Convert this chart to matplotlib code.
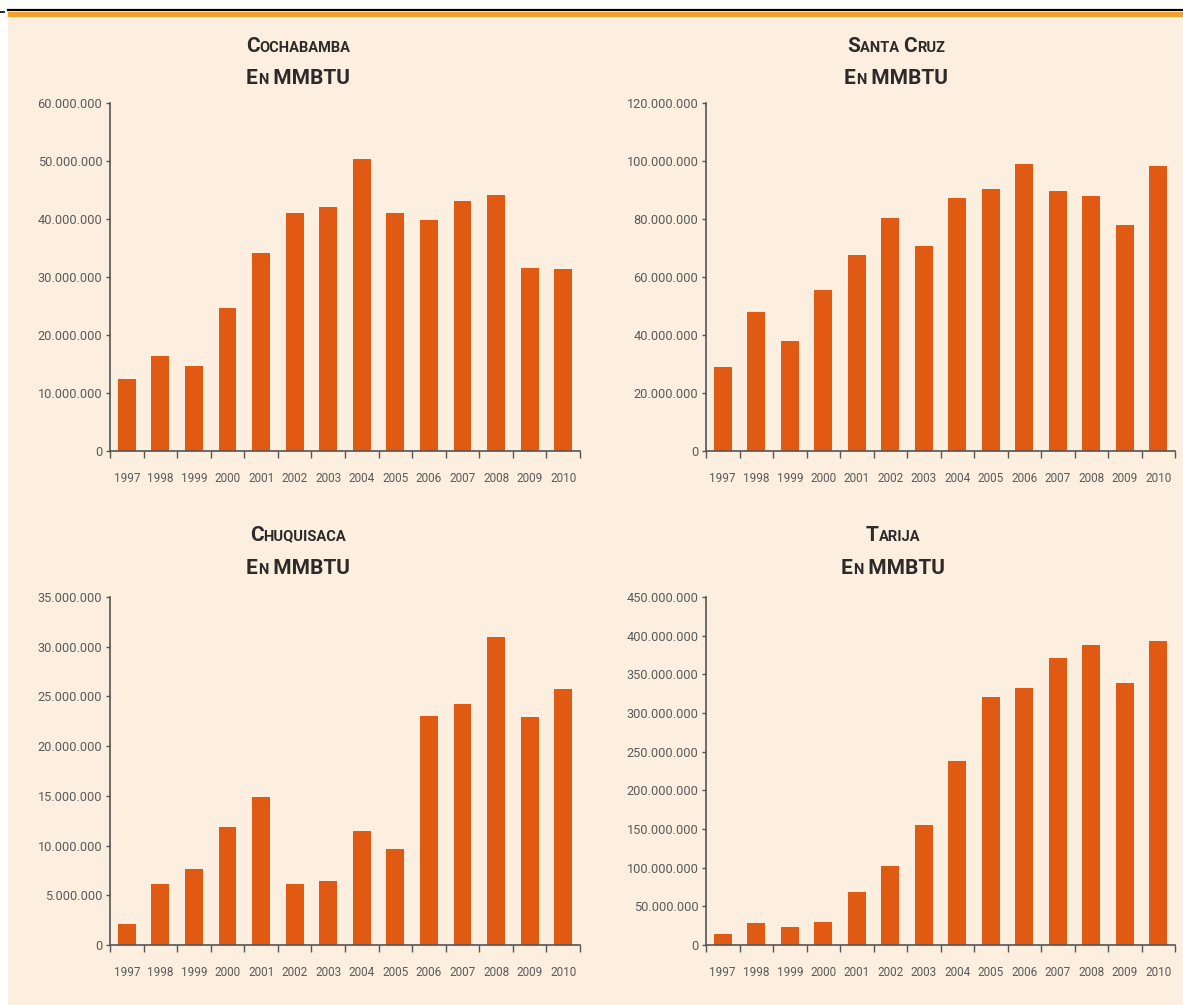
#!/usr/bin/env python3
"""
Consumo de gas natural por departamento, 1997-2010 (MMBTU)
"""

import numpy as np
import matplotlib
matplotlib.use("Agg")
import matplotlib.pyplot as plt
from matplotlib.patches import Rectangle
from matplotlib.lines import Line2D
from matplotlib.offsetbox import TextArea, HPacker, AnnotationBbox
from matplotlib.ticker import FuncFormatter, FixedLocator

# --- data (millones de MMBTU) ---
years = ["1997", "1998", "1999", "2000", "2001", "2002", "2003",
         "2004", "2005", "2006", "2007", "2008", "2009", "2010"]

cochabamba = [12.4, 16.4, 14.6, 24.6, 34.1, 41.0, 42.1,
              50.4, 41.0, 39.8, 43.1, 44.2, 31.5, 31.4]
santa_cruz = [28.8, 47.8, 38.0, 55.4, 67.5, 80.3, 70.7,
              87.4, 90.2, 98.8, 89.7, 88.1, 77.8, 98.3]
chuquisaca = [2.1, 6.1, 7.6, 11.9, 14.9, 6.1, 6.4,
              11.5, 9.7, 23.0, 24.2, 31.0, 22.9, 25.7]
tarija = [14.0, 28.5, 22.8, 30.0, 68.6, 102.5, 155.0,
          238.0, 321.0, 332.5, 370.5, 388.0, 338.5, 393.5]

# title pieces (small caps: big initial + small rest)
titles = [
    [("C", "OCHABAMBA")],
    [("S", "ANTA "), ("C", "RUZ")],
    [("C", "HUQUISACA")],
    [("T", "ARIJA")],
]
series = [cochabamba, santa_cruz, chuquisaca, tarija]
y_max = [60, 120, 35, 450]
y_step = [10, 20, 5, 50]

BAR = "#E05A13"
BG = "#FCEFDF"
AXC = "#555555"
TXT = "#2E2A2A"
FONT = ["Roboto", "DejaVu Sans"]

W, H = 1183, 1005
fig = plt.figure(figsize=(W / 100, H / 100), dpi=100)
fig.patch.set_facecolor("white")

# background panel and top rule
fig.add_artist(Rectangle((8 / W, 0), 1 - 8 / W, 1 - 16 / H,
                         transform=fig.transFigure, facecolor=BG,
                         edgecolor="none", zorder=0))
fig.add_artist(Rectangle((8 / W, 1 - 17 / H), 1 - 8 / W, 5 / H,
                         transform=fig.transFigure, facecolor="#F2A22A",
                         edgecolor="none", zorder=1))
fig.add_artist(Line2D([8 / W, 1], [1 - 10.5 / H, 1 - 10.5 / H],
                      transform=fig.transFigure, color="black", lw=1.6))
fig.add_artist(Line2D([0, 4 / W], [1 - 12 / H, 1 - 12 / H],
                      transform=fig.transFigure, color="black", lw=1.2))

# axes boxes in pixels: left, right, top, bottom (from top of image)
boxes = [(110, 580, 103, 451), (706, 1175, 103, 451),
         (110, 580, 597, 945), (706, 1175, 597, 945)]
title_pos = [(298, 46, 78), (896, 46, 78), (298, 535, 568), (893, 535, 568)]


def fmt(v, pos):
    return f"{int(round(v * 1e6)):,}".replace(",", ".")


x = np.arange(len(years))
for i, vals in enumerate(series):
    l, r, t, b = boxes[i]
    ax = fig.add_axes([l / W, 1 - b / H, (r - l) / W, (b - t) / H])
    ax.set_facecolor("none")
    ax.bar(x, vals, width=0.53, color=BAR, zorder=2)
    ax.set_xlim(-0.5, len(years) - 0.5)
    ax.set_ylim(0, y_max[i])

    for s in ["top", "right"]:
        ax.spines[s].set_visible(False)
    for s in ["left", "bottom"]:
        ax.spines[s].set_color(AXC)
        ax.spines[s].set_linewidth(1.2)

    ax.set_yticks(np.arange(0, y_max[i] + y_step[i] / 2, y_step[i]))
    ax.yaxis.set_major_formatter(FuncFormatter(fmt))
    ax.tick_params(axis="y", length=3, width=1, color=AXC, pad=2.5,
                   labelsize=9.2, labelcolor="#5A5A5A")

    ax.set_xticks(x)
    ax.set_xticklabels(years)
    ax.xaxis.set_minor_locator(FixedLocator(np.arange(-0.5, len(years), 1.0)))
    ax.tick_params(axis="x", which="major", length=0, pad=15,
                   labelsize=8.5, labelcolor="#5A5A5A")
    ax.tick_params(axis="x", which="minor", length=5, width=1,
                   color=AXC, direction="out")
    for lab in ax.get_xticklabels() + ax.get_yticklabels():
        lab.set_family(FONT)

    # small-caps style title, two lines
    big = dict(size=15, weight="bold", color=TXT, family=FONT)
    small = dict(size=10.5, weight="bold", color=TXT, family=FONT)
    line1 = []
    for cap, rest in titles[i]:
        line1 += [TextArea(cap, textprops=big), TextArea(rest, textprops=small)]
    line2 = [TextArea("E", textprops=big), TextArea("N", textprops=small),
             TextArea(" MMBTU", textprops=big)]
    tx, ty1, ty2 = title_pos[i]
    for parts, ty in [(line1, ty1), (line2, ty2)]:
        row = HPacker(children=parts, align="baseline", pad=0, sep=0)
        ab = AnnotationBbox(row, (tx, H - ty), xycoords="figure pixels",
                            box_alignment=(0.5, 0.5), frameon=False)
        fig.add_artist(ab)

plt.savefig("out.png", dpi=100, facecolor=fig.get_facecolor())
plt.close()
